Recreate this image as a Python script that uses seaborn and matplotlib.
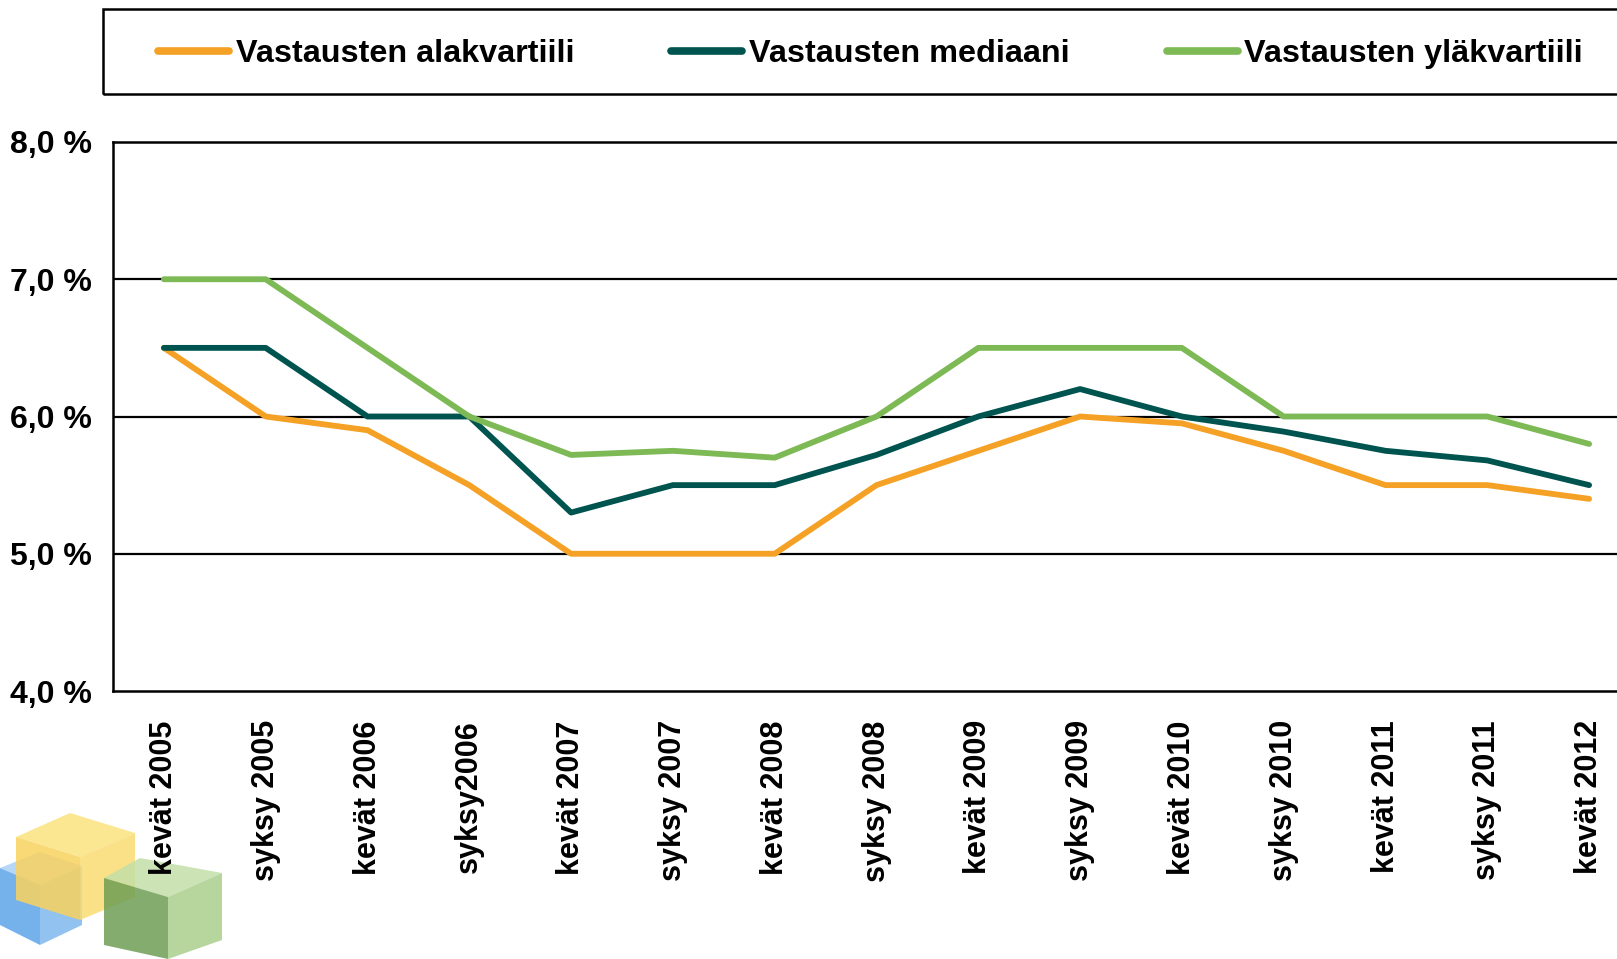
import matplotlib
matplotlib.use("Agg")
import matplotlib.pyplot as plt
import seaborn as sns
import pandas as pd
from matplotlib.patches import Rectangle, Polygon

# data
periods = ["kevät 2005", "syksy 2005", "kevät 2006", "syksy2006", "kevät 2007",
           "syksy 2007", "kevät 2008", "syksy 2008", "kevät 2009", "syksy 2009",
           "kevät 2010", "syksy 2010", "kevät 2011", "syksy 2011", "kevät 2012"]
alakvartiili = [6.5, 6.0, 5.9, 5.5, 5.0, 5.0, 5.0, 5.5, 5.75, 6.0, 5.95, 5.75, 5.5, 5.5, 5.4]
mediaani = [6.5, 6.5, 6.0, 6.0, 5.3, 5.5, 5.5, 5.72, 6.0, 6.2, 6.0, 5.89, 5.75, 5.68, 5.5]
ylakvartiili = [7.0, 7.0, 6.5, 6.0, 5.72, 5.75, 5.7, 6.0, 6.5, 6.5, 6.5, 6.0, 6.0, 6.0, 5.8]
series_names = ["Vastausten alakvartiili", "Vastausten mediaani", "Vastausten yläkvartiili"]
colors = ["#F4A125", "#00544F", "#7DB955"]

rows = []
for name, vals in zip(series_names, [alakvartiili, mediaani, ylakvartiili]):
    for i, v in enumerate(vals):
        rows.append({"x": i, "value": v, "series": name})
df = pd.DataFrame(rows)

sns.set_style("white")
plt.rcParams["font.family"] = ["Liberation Sans", "DejaVu Sans"]
plt.rcParams["font.weight"] = "bold"
plt.rcParams["text.color"] = "black"
plt.rcParams["xtick.color"] = "black"
plt.rcParams["ytick.color"] = "black"

W, H = 1617, 959
fig = plt.figure(figsize=(W / 100, H / 100), dpi=100)
ax = fig.add_axes([113 / W, 1 - 691 / H, (1640 - 113) / W, (691 - 142) / H])

sns.lineplot(data=df, x="x", y="value", hue="series", palette=colors,
             linewidth=4.2, ax=ax, legend=False, solid_capstyle="round")

ax.set_ylim(4.0, 8.0)
ax.set_xlim(-0.5, 14.5)
ax.set_yticks([4, 5, 6, 7, 8])
ax.set_yticklabels([f"{v:.1f} %".replace(".", ",") for v in [4, 5, 6, 7, 8]],
                   fontsize=23, fontweight="bold")
ax.set_xticks(range(len(periods)))
ax.set_xticklabels(periods, rotation=90, fontsize=22, fontweight="bold", va="top")
ax.tick_params(axis="y", length=0, pad=15)
ax.tick_params(axis="x", length=0, pad=21)
for y in [5, 6, 7]:
    ax.axhline(y, color="black", lw=1.6, zorder=0)
for s in ax.spines.values():
    s.set_color("black")
    s.set_linewidth(1.8)
ax.set_xlabel("")
ax.set_ylabel("")

# legend box at top
fig.patches.append(Rectangle((103 / W, 1 - 94 / H), (1640 - 103) / W, 85 / H,
                             transform=fig.transFigure, fill=False,
                             edgecolor="black", lw=1.8))
handles = [plt.Line2D([], [], color=c, lw=5.5, solid_capstyle="round") for c in colors]
fig.legend(handles, series_names, loc="center left", ncol=3, frameon=False,
           bbox_to_anchor=(158 / W, 1 - 54 / H), borderaxespad=0, borderpad=0,
           prop={"size": 23.3, "weight": "bold"},
           handlelength=2.2, handletextpad=0.2, columnspacing=3.0)

# logo cubes in the lower left corner
lax = fig.add_axes([0, 0, 1, 1], zorder=-1)
lax.set_xlim(0, W)
lax.set_ylim(H, 0)
lax.axis("off")
cubes = [
    # blue
    ([(0, 868), (40, 852), (82, 866), (40, 885)], "#A9D0F5"),
    ([(0, 868), (40, 885), (40, 945), (0, 925)], "#5DA5E8"),
    ([(40, 885), (82, 866), (82, 925), (40, 945)], "#7FB8EE"),
    # yellow
    ([(16, 837), (70, 813), (135, 833), (80, 857)], "#FBE37F"),
    ([(16, 837), (80, 857), (80, 920), (16, 900)], "#F9D25E"),
    ([(80, 857), (135, 833), (135, 897), (80, 920)], "#FADB72"),
    # green
    ([(104, 878), (140, 858), (222, 873), (168, 897)], "#C4DFA8"),
    ([(104, 878), (168, 897), (168, 959), (104, 945)], "#6E9E55"),
    ([(168, 897), (222, 873), (222, 940), (168, 959)], "#A9CF8D"),
]
for pts, c in cubes:
    lax.add_patch(Polygon(pts, closed=True, facecolor=c, edgecolor="none", alpha=0.85))

fig.savefig("out.png", dpi=100)
